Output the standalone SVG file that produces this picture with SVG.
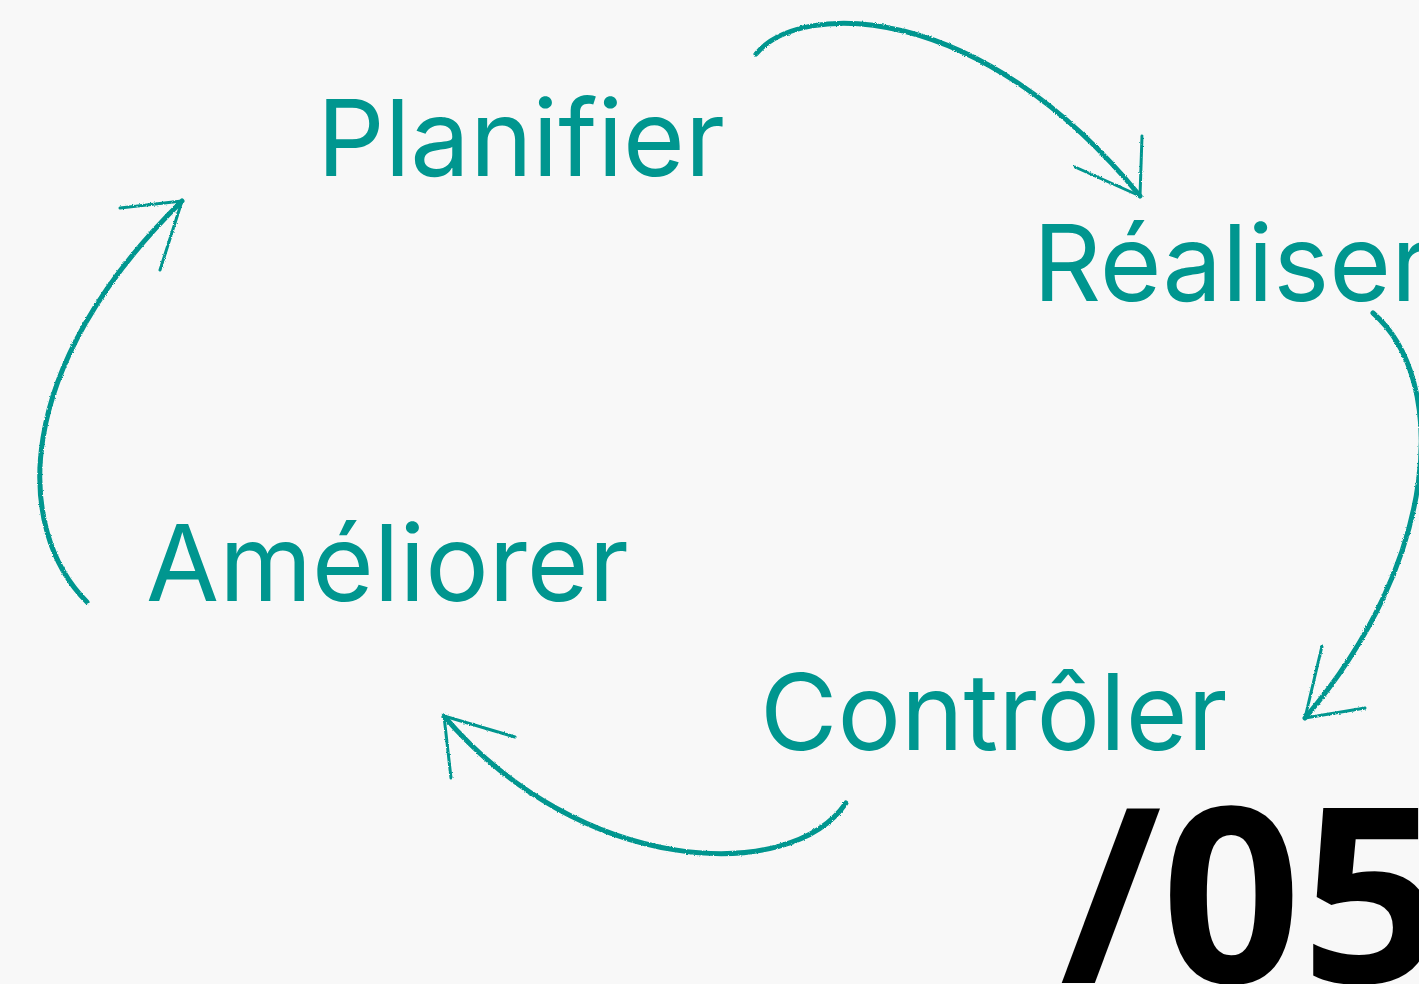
<svg xmlns="http://www.w3.org/2000/svg" width="1419" height="984" viewBox="0 0 1419 984">
<defs>
<filter id="rough" x="-10%" y="-10%" width="120%" height="120%">
<feTurbulence type="fractalNoise" baseFrequency="0.9" numOctaves="2" seed="3" result="n"/>
<feDisplacementMap in="SourceGraphic" in2="n" scale="2.5" xChannelSelector="R" yChannelSelector="G"/>
</filter>
<style>
.lbl{font-family:Inter,"Noto Sans","Liberation Sans",sans-serif;font-size:106px;fill:#00968f;}
.num{font-family:"Open Sans","Noto Sans","Liberation Sans",sans-serif;font-weight:bold;font-size:245px;fill:#000;}
.arc{fill:none;stroke:#00968f;stroke-width:5;stroke-linecap:round;stroke-linejoin:round;}
.barb{fill:none;stroke:#00968f;stroke-width:3;stroke-linecap:round;}
</style>
</defs>
<rect width="1419" height="984" fill="#f8f8f8"/>
<g id="planifier"><text class="lbl" x="317" y="176">Planifier</text></g>
<g id="realiser"><text class="lbl" x="1033" y="301">Réaliser</text></g>
<g id="controler"><text class="lbl" x="760" y="750">Contrôler</text></g>
<g id="ameliorer"><text class="lbl" x="146" y="601">Améliorer</text></g>
<g id="connectors" filter="url(#rough)">
<path class="arc" d="M756,54 C800,0 980,0 1140,196"/>
<path class="barb" d="M1140,196 L1142,136 M1140,196 L1075,167"/>
<path class="arc" d="M1373,313 C1450,380 1440,560 1305,718"/>
<path class="barb" d="M1305,718 L1322,646 M1305,718 L1365,708"/>
<path class="arc" d="M846,803 C790,885 580,875 444,716"/>
<path class="barb" d="M444,716 L451,778 M444,716 L515,737"/>
<path class="arc" d="M87,602 C15,530 10,370 182,201"/>
<path class="barb" d="M182,201 L120,208 M182,201 L160,270"/>
</g>
<g id="number"><text class="num" x="1060" y="983">/05</text></g>
</svg>
